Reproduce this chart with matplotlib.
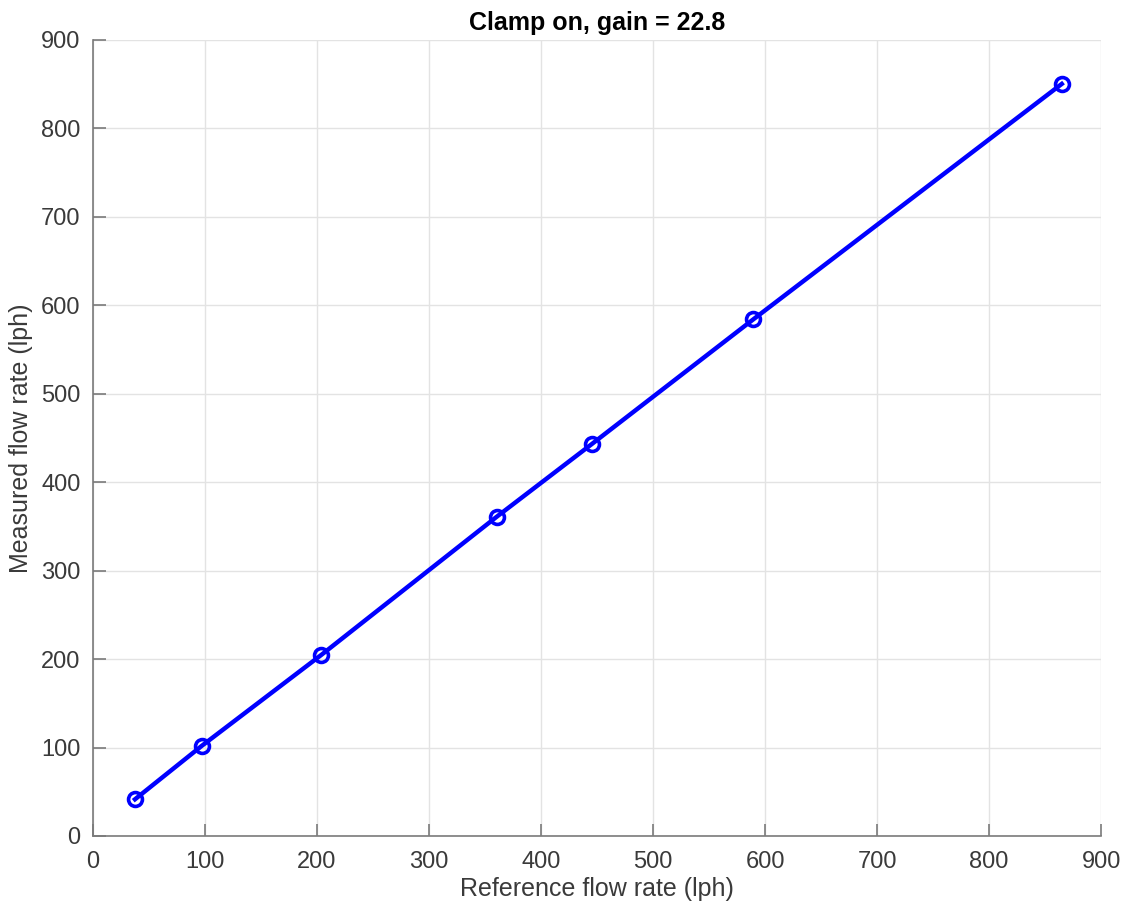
import matplotlib.pyplot as plt

plt.rcParams['font.family'] = ['Liberation Sans', 'DejaVu Sans']

ref_flow = [37.5, 97.0, 203.6, 360.4, 445.3, 589.6, 864.9]
meas_flow = [41.5, 101.8, 204.5, 360.9, 443.1, 584.2, 850.3]
ticks = list(range(0, 1000, 100))

fig = plt.figure(figsize=(11.27, 9.08), dpi=100)
ax = fig.add_axes([0.0825, 0.0793, 0.8945, 0.8767])

ax.plot(ref_flow, meas_flow, color='#0000ff', linewidth=3.2, marker='o',
        markersize=10, markerfacecolor='none', markeredgewidth=2.6)

ax.set_xlim(0, 900)
ax.set_ylim(0, 900)
ax.set_xticks(ticks)
ax.set_yticks(ticks)
ax.grid(True, color='#e3e3e3', linewidth=1)
ax.set_axisbelow(True)

for side in ['top', 'right']:
    ax.spines[side].set_visible(False)
for side in ['left', 'bottom']:
    ax.spines[side].set_color('#7a7a7a')
    ax.spines[side].set_linewidth(1.2)

ax.tick_params(direction='in', length=9, width=1.2, color='#7a7a7a',
               labelsize=17, labelcolor='#3a3a3a')
ax.tick_params(axis='x', pad=11)
ax.tick_params(axis='y', pad=9)

ax.set_xlabel('Reference flow rate (lph)', fontsize=18, color='#3a3a3a', labelpad=3)
ax.set_ylabel('Measured flow rate (lph)', fontsize=18, color='#3a3a3a', labelpad=6)
ax.set_title('Clamp on, gain = 22.8', fontsize=18, fontweight='bold', pad=7)

fig.savefig('out.png', dpi=100)
